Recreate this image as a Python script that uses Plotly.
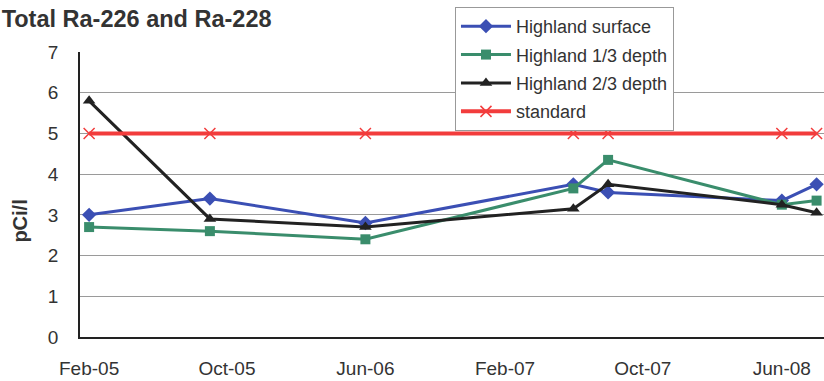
import plotly.graph_objects as go

# Sampling dates (month resolution)
dates = ["2005-02-01", "2005-09-01", "2006-06-01", "2007-06-01",
         "2007-08-01", "2008-06-01", "2008-08-01"]

surface = [3.0, 3.4, 2.8, 3.75, 3.55, 3.35, 3.75]
depth_13 = [2.7, 2.6, 2.4, 3.65, 4.35, 3.25, 3.35]
depth_23 = [5.8, 2.9, 2.7, 3.15, 3.75, 3.25, 3.05]
standard = [5, 5, 5, 5, 5, 5, 5]

tick_dates = ["2005-02-01", "2005-10-01", "2006-06-01",
              "2007-02-01", "2007-10-01", "2008-06-01"]
tick_labels = ["Feb-05", "Oct-05", "Jun-06", "Feb-07", "Oct-07", "Jun-08"]

FONT = "Arial, Liberation Sans, sans-serif"

series = [
    ("Highland surface", surface, "#3b4fb4", "diamond", 11, 3),
    ("Highland 1/3 depth", depth_13, "#3a8d6c", "square", 10, 3),
    ("Highland 2/3 depth", depth_23, "#222222", "triangle-up", 11, 3),
]

fig = go.Figure()
for i, (name, vals, color, sym, msize, lw) in enumerate(series):
    fig.add_trace(go.Scatter(
        x=dates, y=vals, name=name, mode="lines+markers",
        line=dict(color=color, width=lw),
        marker=dict(symbol=sym, size=msize, color=color),
        legendgroup=f"g{i}", cliponaxis=False,
    ))

fig.add_trace(go.Scatter(
    x=dates, y=standard, name="standard", mode="lines+markers",
    line=dict(color="#f23c3c", width=4),
    marker=dict(symbol="x-thin", size=11, line=dict(color="#f23c3c", width=1.5)),
    legendgroup="g3", cliponaxis=False,
))

fig.update_layout(
    width=824, height=381,
    margin=dict(l=80, r=0, t=52, b=44),
    paper_bgcolor="white", plot_bgcolor="white",
    font=dict(family=FONT, color="#333333", size=14),
    title=dict(text="<b>Total Ra-226 and Ra-228</b>", x=0.002, xanchor="left",
               y=0.950, yanchor="middle", font=dict(size=23.5, color="#333333")),
    legend=dict(x=0.504, y=1.158, xanchor="left", yanchor="top",
                bgcolor="white", bordercolor="#999999", borderwidth=1,
                font=dict(size=18, color="#333333"), tracegroupgap=2,
                itemwidth=50, traceorder="grouped"),
    showlegend=True,
    annotations=[dict(
        text="<b>pCi/l</b>", textangle=-90, showarrow=False,
        xref="paper", yref="paper", x=-0.0806, y=0.405,
        xanchor="center", yanchor="middle",
        font=dict(size=20, color="#333333"),
    )],
)

fig.update_xaxes(
    type="date", range=["2005-01-16", "2008-08-14"],
    tickvals=tick_dates, ticktext=tick_labels,
    showgrid=False, showline=True, linecolor="#222222", linewidth=1.5,
    ticks="", ticklabelstandoff=13, tickfont=dict(size=19, color="#333333"),
)
# long transparent ticks push the tick labels away from the axis line
fig.update_yaxes(
    range=[0, 7], dtick=1, showgrid=True, gridcolor="#9a9a9a", gridwidth=1,
    showline=True, linecolor="#222222", linewidth=1.5,
    ticks="outside", ticklen=16, tickcolor="rgba(0,0,0,0)",
    tickfont=dict(size=19, color="#333333"),
    zeroline=False,
)

fig.write_html("out.html")
